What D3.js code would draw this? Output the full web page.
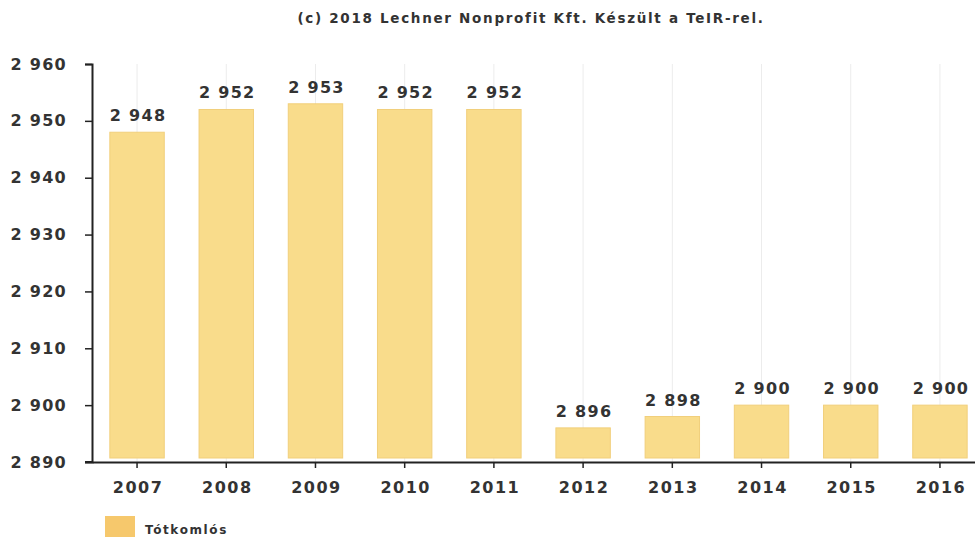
<!DOCTYPE html>
<html>
<head>
<meta charset="utf-8">
<script src="https://cdn.jsdelivr.net/npm/d3@7"></script>
<style>
  body { margin: 0; background: #fff; }
  text { font-family: "DejaVu Sans", Verdana, sans-serif; font-weight: bold; fill: #333; }
</style>
</head>
<body>
<div id="chart"></div>
<script>
var years = ["2007", "2008", "2009", "2010", "2011", "2012", "2013", "2014", "2015", "2016"];
var population = [2948, 2952, 2953, 2952, 2952, 2896, 2898, 2900, 2900, 2900];
var yTicks = [2890, 2900, 2910, 2920, 2930, 2940, 2950, 2960];
var seriesName = "Tótkomlós";
var credit = "(c) 2018 Lechner Nonprofit Kft. Készült a TeIR-rel.";

var svgWidth = 975;
var svgHeight = 537;
var margin = { top: 64, right: -10, bottom: 75, left: 92 };
var chartWidth = svgWidth - margin.left - margin.right;
var chartHeight = svgHeight - margin.top - margin.bottom;

var fmt = function(v) { return d3.format(",")(v).replace(",", " "); };

var svg = d3.select("#chart").append("svg")
  .attr("width", svgWidth)
  .attr("height", svgHeight);

svg.append("text")
  .attr("x", 531)
  .attr("y", 23)
  .attr("text-anchor", "middle")
  .attr("font-size", 13.5)
  .attr("letter-spacing", 1.7)
  .text(credit);

var chartGroup = svg.append("g")
  .attr("transform", `translate(${margin.left}, ${margin.top})`);

var x = d3.scaleBand().domain(years).range([0, chartWidth]).paddingInner(0.39).paddingOuter(0.2);
var y = d3.scaleLinear().domain([2890, 2960]).range([chartHeight, 0]);

// faint vertical grid
chartGroup.selectAll(".grid").data(years).enter().append("line")
  .attr("x1", d => x(d) + x.bandwidth() / 2)
  .attr("x2", d => x(d) + x.bandwidth() / 2)
  .attr("y1", 0).attr("y2", chartHeight)
  .attr("stroke", "#ececec").attr("stroke-width", 1);

chartGroup.selectAll("rect.bar").data(population).enter().append("rect")
  .attr("class", "bar")
  .attr("x", (d, i) => x(years[i]))
  .attr("y", d => y(d))
  .attr("width", x.bandwidth())
  .attr("height", d => chartHeight - y(d) - 4)
  .attr("fill", "#f9dc8b")
  .attr("stroke", "#f1cf7b");

chartGroup.selectAll("text.val").data(population).enter().append("text")
  .attr("class", "val")
  .attr("x", (d, i) => x(years[i]) + x.bandwidth() / 2 + 1)
  .attr("y", d => y(d) - 11)
  .attr("text-anchor", "middle")
  .attr("font-size", 16)
  .attr("letter-spacing", 1.3)
  .text(d => fmt(d));

var leftAxis = d3.axisLeft(y).tickValues(yTicks).tickFormat(fmt).tickSize(7).tickPadding(18);
var ya = chartGroup.append("g").call(leftAxis);
ya.selectAll("text").attr("font-size", 16).attr("letter-spacing", 1.3).style("font-family", "DejaVu Sans").style("font-weight", "bold").attr("fill", "#333");
ya.selectAll("line").attr("stroke", "#222").attr("stroke-width", 1.5);
ya.select(".domain").attr("stroke", "#222").attr("stroke-width", 2);

var bottomAxis = d3.axisBottom(x).tickSize(6).tickPadding(14).tickSizeOuter(0);
var xa = chartGroup.append("g").attr("transform", `translate(0, ${chartHeight})`).call(bottomAxis);
xa.selectAll("text").attr("font-size", 16).attr("letter-spacing", 1.5).attr("dx", 1).style("font-family", "DejaVu Sans").style("font-weight", "bold").attr("fill", "#333");
xa.selectAll("line").attr("stroke", "#222").attr("stroke-width", 1.5);
xa.select(".domain").attr("stroke", "#222").attr("stroke-width", 2);
chartGroup.append("line").attr("x1", -7).attr("x2", 0).attr("y1", chartHeight).attr("y2", chartHeight)
  .attr("stroke", "#222").attr("stroke-width", 2);

// legend
svg.append("rect").attr("x", 105).attr("y", 516).attr("width", 30).attr("height", 22).attr("fill", "#f6c86c");
svg.append("text").attr("x", 145).attr("y", 534).attr("font-size", 12).attr("letter-spacing", 1.6).text(seriesName);
</script>
</body>
</html>
